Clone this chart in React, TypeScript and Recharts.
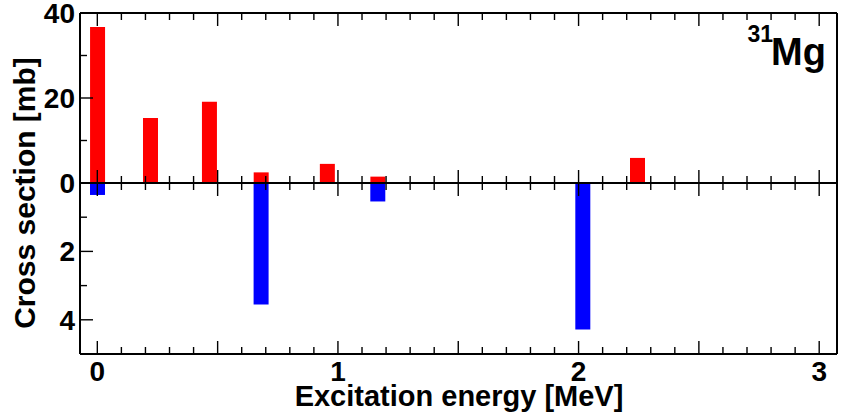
import React from 'react';
import { BarChart, Bar, XAxis, YAxis, Label } from 'recharts';

// level energies [MeV] and cross sections
const redEnergy = [0, 0.22, 0.465, 0.68, 0.955, 1.165, 2.244];
const redCross = [36.7, 15.3, 19.1, 2.5, 4.5, 1.5, 5.9];
const blueEnergy = [0, 0.68, 1.165, 2.017];
const blueCross = [0.35, 3.55, 0.54, 4.28];

const energyTicks = Array.from({ length: 31 }, (_, i) => i / 10);
const energyLabels = [0, 1, 2, 3];
const upperTicks = [0, 10, 20, 30, 40];
const upperMajor = [0, 20, 40];
const lowerTicks = [0, 1, 2, 3, 4];
const lowerMajor = [0, 2, 4];
const lowerLabels = [2, 4];

const W = 842;
const H = 419;
const X_DOMAIN = [-0.072, 3.074];
const FONT = '"Liberation Sans", Arial, Helvetica, sans-serif';
const FRAME = { stroke: '#000', strokeWidth: 2 };

const redData = redEnergy.map((e, i) => ({ e, cs: redCross[i] }));
const blueData = blueEnergy.map((e, i) => ({ e, cs: blueCross[i] }));

const isHalf = (v: number) => Math.abs(v * 2 - Math.round(v * 2)) < 1e-6;

// x ticks drawn inside the frame; dir 1 = down, -1 = up
const xTick = (dir: number, withLabels = false) => (props: any) => {
  const { x, y, payload } = props;
  const v = payload.value;
  const len = isHalf(v) ? 13 : 7;
  const showLabel = withLabels && energyLabels.some((l) => Math.abs(l - v) < 1e-6);
  return (
    <g>
      <line x1={x} x2={x} y1={y} y2={y + dir * len} stroke="#000" strokeWidth={1.4} />
      {showLabel && (
        <text x={x} y={y + 27} textAnchor="middle" fontFamily={FONT} fontWeight={700} fontSize={28} fill="#000">
          {Math.round(v)}
        </text>
      )}
    </g>
  );
};

const yTick = (majors: number[], labels: number[]) => (props: any) => {
  const { x, y, payload } = props;
  const v = payload.value;
  const len = majors.includes(v) ? 13 : 7;
  return (
    <g>
      <line x1={x} x2={x + len} y1={y} y2={y} stroke="#000" strokeWidth={1.4} />
      {labels.includes(v) && (
        <text x={x - 5} y={y} dy={10} textAnchor="end" fontFamily={FONT} fontWeight={700} fontSize={28} fill="#000">
          {v}
        </text>
      )}
    </g>
  );
};

const xAxisCommon = {
  type: 'number' as const,
  dataKey: 'e',
  domain: X_DOMAIN,
  allowDataOverflow: true,
  ticks: energyTicks,
  interval: 0,
  tickSize: 0,
  tickMargin: 0,
  tickLine: false,
  axisLine: FRAME,
};

const App: React.FC = () => {
  return (
    <div style={{ position: 'absolute', left: 0, top: 0, width: W, height: H, background: '#fff' }}>
      {/* upper panel: red bars */}
      <div style={{ position: 'absolute', left: 0, top: 0 }}>
        <BarChart width={W} height={H} data={redData} margin={{ top: 12, right: 4, bottom: 235, left: 0 }}>
          <Bar xAxisId="mid" yAxisId="left" dataKey="cs" fill="#ff0000" barSize={15} isAnimationActive={false} />
          <XAxis xAxisId="top" orientation="top" height={1} {...xAxisCommon} tick={xTick(1)} />
          <XAxis xAxisId="mid" orientation="bottom" height={1} {...xAxisCommon} tick={xTick(-1)} />
          <YAxis
            yAxisId="left"
            type="number"
            domain={[0, 40]}
            allowDataOverflow
            ticks={upperTicks}
            interval={0}
            width={80}
            tickSize={0}
            tickMargin={0}
            tickLine={false}
            axisLine={FRAME}
            tick={yTick(upperMajor, upperMajor)}
          />
          <YAxis yAxisId="right" orientation="right" type="number" domain={[0, 40]} width={1} tick={false} tickLine={false} axisLine={FRAME} />
        </BarChart>
      </div>

      {/* lower panel: blue bars hanging down */}
      <div style={{ position: 'absolute', left: 0, top: 0 }}>
        <BarChart width={W} height={H} data={blueData} margin={{ top: 182, right: 4, bottom: 1, left: 0 }}>
          <Bar xAxisId="bot" yAxisId="left" dataKey="cs" fill="#0000ff" barSize={15} isAnimationActive={false} />
          <XAxis xAxisId="mid" orientation="top" height={1} {...xAxisCommon} tick={xTick(1)} />
          <XAxis xAxisId="bot" orientation="bottom" height={64} {...xAxisCommon} tick={xTick(-1, true)}>
            <Label
              content={() => (
                <text x={459} y={406} textAnchor="middle" fontFamily={FONT} fontWeight={700} fontSize={29} fill="#000">
                  Excitation energy [MeV]
                </text>
              )}
            />
          </XAxis>
          <YAxis
            yAxisId="left"
            type="number"
            reversed
            domain={[0, 5]}
            allowDataOverflow
            ticks={lowerTicks}
            interval={0}
            width={80}
            tickSize={0}
            tickMargin={0}
            tickLine={false}
            axisLine={FRAME}
            tick={yTick(lowerMajor, lowerLabels)}
          >
            <Label
              content={() => (
                <text
                  x={35}
                  y={193}
                  transform="rotate(-90 35 193)"
                  textAnchor="middle"
                  fontFamily={FONT}
                  fontWeight={700}
                  fontSize={30}
                  fill="#000"
                >
                  Cross section [mb]
                </text>
              )}
            />
          </YAxis>
          <YAxis yAxisId="right" orientation="right" type="number" reversed domain={[0, 5]} width={1} tick={false} tickLine={false} axisLine={FRAME} />
        </BarChart>
      </div>

      <svg width={W} height={H} style={{ position: 'absolute', left: 0, top: 0, pointerEvents: 'none' }}>
        <text x={773} y={42} textAnchor="end" fontFamily={FONT} fontWeight={700} fontSize={23} fill="#000">
          31
        </text>
        <text x={771} y={65} fontFamily={FONT} fontWeight={700} fontSize={38} fill="#000">
          Mg
        </text>
      </svg>
    </div>
  );
};

export default App;
